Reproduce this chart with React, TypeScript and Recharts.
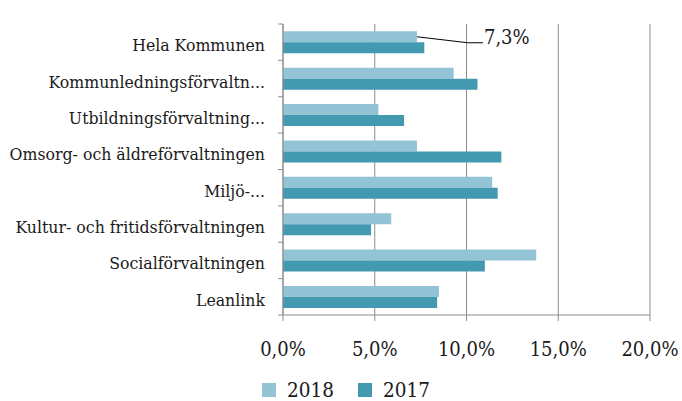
import React from "react";
import { BarChart, Bar, XAxis, YAxis, CartesianGrid, Legend, LabelList } from "recharts";

const categories = [
  "Hela Kommunen",
  "Kommunledningsförvaltn...",
  "Utbildningsförvaltning...",
  "Omsorg- och äldreförvaltningen",
  "Miljö-...",
  "Kultur- och fritidsförvaltningen",
  "Socialförvaltningen",
  "Leanlink",
];
const values2018 = [7.3, 9.3, 5.2, 7.3, 11.4, 5.9, 13.8, 8.5];
const values2017 = [7.7, 10.6, 6.6, 11.9, 11.7, 4.8, 11.0, 8.4];
const xTicks = [0, 5, 10, 15, 20];

const W = 682;
const H = 401;
const MARGIN = { top: 24, right: 32, bottom: 0, left: 0 };
const X_AXIS_H = 56;
const LEGEND_H = 30;
const PLOT_H = H - MARGIN.top - MARGIN.bottom - X_AXIS_H - LEGEND_H;
const BAND = PLOT_H / categories.length;

const FONT = "'DejaVu Serif Condensed', 'DejaVu Serif', serif";
const GRID = "#8c8c8c";
const LIGHT = "#93c4d5";
const DARK = "#4399b0";

const data = categories.map((name, i) => ({
  name,
  v2018: values2018[i],
  v2017: values2017[i],
}));

const pct = (v: number) => v.toFixed(1).replace(".", ",") + "%";

const CategoryTick = (props: any) => {
  const { x, y, payload, index } = props;
  const top = y - BAND / 2;
  return (
    <g>
      <line x1={x - 5} x2={x} y1={top} y2={top} stroke={GRID} />
      {index === categories.length - 1 && (
        <line x1={x - 5} x2={x} y1={top + BAND} y2={top + BAND} stroke={GRID} />
      )}
      <text
        x={x - 18}
        y={y + 9}
        textAnchor="end"
        fontFamily={FONT}
        fontSize={17.5}
        style={{ fontStretch: "condensed" }}
        fill="#1a1a1a"
      >
        {payload.value}
      </text>
    </g>
  );
};

const LeaderLabel = (props: any) => {
  const { x, y, width, height, value, index } = props;
  if (index !== 0) return null;
  const sx = x + width;
  const sy = y + height / 2;
  return (
    <g>
      <polyline
        points={`${sx},${sy} ${sx + 51},${sy + 6} ${sx + 66},${sy + 6}`}
        fill="none"
        stroke="#000"
        strokeWidth={1}
      />
      <text
        x={sx + 67}
        y={sy + 7}
        fontFamily={FONT}
        fontSize={20}
        style={{ fontStretch: "condensed" }}
        fill="#1a1a1a"
      >
        {pct(value)}
      </text>
    </g>
  );
};

const LegendContent = () => (
  <div
    style={{
      height: LEGEND_H,
      boxSizing: "border-box",
      paddingTop: 8,
      display: "flex",
      justifyContent: "center",
      alignItems: "center",
      gap: 24,
      fontFamily: FONT,
      fontStretch: "condensed",
      fontSize: 20.5,
      color: "#1a1a1a",
      paddingLeft: 42,
    }}
  >
    {[
      { label: "2018", color: LIGHT },
      { label: "2017", color: DARK },
    ].map((item) => (
      <span key={item.label} style={{ display: "flex", alignItems: "center", gap: 11 }}>
        <span style={{ width: 14, height: 14, background: item.color, display: "inline-block" }} />
        {item.label}
      </span>
    ))}
  </div>
);

export default function App() {
  return (
    <div style={{ position: "absolute", left: 0, top: 0, width: W, height: H, background: "#fff" }}>
      <BarChart
        width={W}
        height={H}
        data={data}
        layout="vertical"
        margin={MARGIN}
        barCategoryGap="20%"
        barGap={0}
      >
        <CartesianGrid horizontal={false} stroke={GRID} />
        <XAxis
          type="number"
          domain={[0, 20]}
          ticks={xTicks}
          tickFormatter={pct}
          height={X_AXIS_H}
          stroke={GRID}
          tickSize={6}
          tickMargin={21}
          tick={{ fill: "#1a1a1a", fontSize: 20, fontFamily: FONT, style: { fontStretch: "condensed" } }}
        />
        <YAxis
          type="category"
          dataKey="name"
          width={283}
          stroke={GRID}
          tickLine={false}
          tickSize={0}
          tickMargin={0}
          interval={0}
          tick={<CategoryTick />}
        />
        <Legend verticalAlign="bottom" height={LEGEND_H} content={<LegendContent />} />
        <Bar dataKey="v2018" name="2018" fill={LIGHT} isAnimationActive={false}>
          <LabelList dataKey="v2018" content={<LeaderLabel />} />
        </Bar>
        <Bar dataKey="v2017" name="2017" fill={DARK} isAnimationActive={false} />
      </BarChart>
    </div>
  );
}
